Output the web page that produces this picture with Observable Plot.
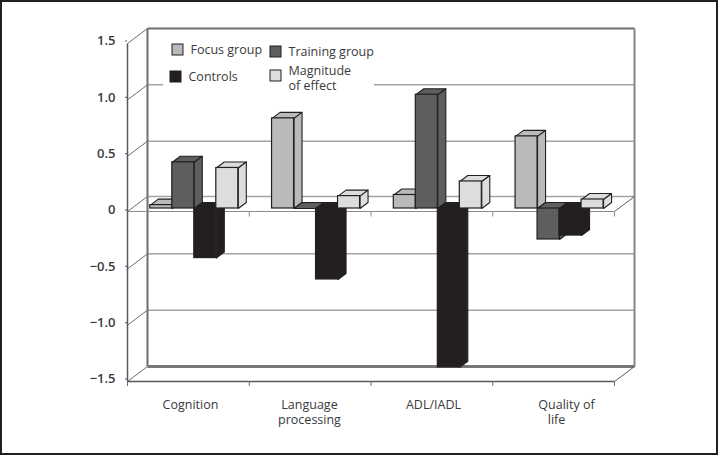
<!DOCTYPE html>
<html><head><meta charset="utf-8">
<script src="https://cdn.jsdelivr.net/npm/d3@7"></script>
<script src="https://cdn.jsdelivr.net/npm/@observablehq/plot@0.6"></script>
<style>
html,body{margin:0;padding:0;background:#fff}
#wrap{position:relative;width:718px;height:455px;overflow:hidden}
#wrap svg{position:absolute;left:0;top:0}
#wrap:after{content:"";position:absolute;left:0;top:0;width:718px;height:455px;box-sizing:border-box;border:2px solid #231f20;pointer-events:none}
</style></head><body><div id="wrap"></div>
<script>
const categories = ["Cognition", "Language processing", "ADL/IADL", "Quality of life"];
const seriesNames = ["Focus group", "Training group", "Controls", "Magnitude of effect"];
const focus     = [0.03, 0.80, 0.12, 0.64];
const training  = [0.41, 0.00, 1.01, -0.275];
const controls  = [-0.44, -0.63, -1.41, -0.24];
const magnitude = [0.36, 0.11, 0.24, 0.08];
const seriesValues = [focus, training, controls, magnitude];
const seriesColors = ["#b9babc", "#5d5e60", "#231f20", "#dcddde"];
const yTicks = [-1.5, -1, -0.5, 0, 0.5, 1, 1.5];
const xTicks = [0, 1, 2, 3, 4];

// Scale geometry of the box (data units)
const W = 718, H = 455, mL = 127, mR = 104, mT = 43, mB = 74;
const pxX = (W - mL - mR) / 4, pxY = (H - mT - mB) / 3;
const X = px => (px - mL) / pxX;
const Y = py => 1.5 - (py - mT) / pxY;
const wallDX = 20 / pxX, wallDY = 15 / pxY;       // box depth
const barDX = 8 / pxX, barDY = 6 / pxY;           // bar depth
const baseY = 4 / pxY;                            // bar base above front zero line
const zeroY = 1 / pxY;                            // zero plane sits a pixel above the scale's centre
const groupStart = 22.8 / pxX, barW = 22 / pxX;

const bars = [];
categories.forEach((c, ci) => seriesValues.forEach((vals, si) => {
  const x1 = ci + groupStart + si * barW, x2 = x1 + barW, v = vals[ci];
  bars.push({id: `${ci}-${si}`, x1, x2, y1: baseY, y2: baseY + v, color: seriesColors[si], top: Math.max(baseY, baseY + v), bottom: Math.min(baseY, baseY + v)});
}));
const faces = [];
for (const b of bars) {
  [[b.x1, b.top], [b.x2, b.top], [b.x2 + barDX, b.top + barDY], [b.x1 + barDX, b.top + barDY]]
    .forEach(([x, y]) => faces.push({z: b.id + "t", x, y, color: b.color}));
  [[b.x2, b.top], [b.x2 + barDX, b.top + barDY], [b.x2 + barDX, b.bottom + barDY], [b.x2, b.bottom]]
    .forEach(([x, y]) => faces.push({z: b.id + "s", x, y, color: b.color}));
}

const font = "'Open Sans', sans-serif";
const ink = "#3a3a3c";
const shift = v => v === 0 ? zeroY : v;

const chart = Plot.plot({
  width: W, height: H,
  marginLeft: mL, marginRight: mR, marginTop: mT, marginBottom: mB,
  style: {background: "#fff", fontFamily: font, fontSize: "12.5px", color: ink, overflow: "visible"},
  x: {type: "linear", domain: [0, 4]},
  y: {type: "linear", domain: [-1.5, 1.5]},
  marks: [
    // back wall gridlines
    Plot.link(yTicks.filter(v => v > -1.5 && v < 1.5), {x1: wallDX, x2: 4 + wallDX, y1: v => shift(v) + wallDY, y2: v => shift(v) + wallDY, stroke: "#a3a4a6", strokeWidth: 1.5}),
    // left wall diagonals
    Plot.link(yTicks, {x1: 0, x2: wallDX, y1: shift, y2: v => shift(v) + wallDY, stroke: "#6d6e70", strokeWidth: 1}),
    // box: top edge, back verticals, floor
    Plot.link([1.5], {x1: wallDX, x2: 4 + wallDX, y1: v => v + wallDY, y2: v => v + wallDY, stroke: "#6d6e70", strokeWidth: 2}),
    Plot.link([wallDX], {x1: d => d, x2: d => d, y1: -1.5 + wallDY, y2: 1.5 + wallDY, stroke: "#6d6e70", strokeWidth: 2}),
    Plot.link([4 + wallDX], {x1: d => d, x2: d => d, y1: -1.5 + wallDY, y2: 1.5 + wallDY, stroke: "#858688", strokeWidth: 2}),
    Plot.link([-1.5], {x1: wallDX, x2: 4 + wallDX, y1: v => v + wallDY, y2: v => v + wallDY, stroke: "#77787a", strokeWidth: 3}),
    // floor front and front left edge
    Plot.link([-1.5], {x1: 0, x2: 4, y1: v => v, y2: v => v, stroke: "#58595b", strokeWidth: 1.5}),
    Plot.link([0], {x1: d => d, x2: d => d, y1: -1.5, y2: 1.5, stroke: "#58595b", strokeWidth: 1.5}),
    Plot.link([-1.5, 0], {x1: 4, x2: 4 + wallDX, y1: shift, y2: v => shift(v) + wallDY, stroke: "#58595b", strokeWidth: 1}),
    // zero plane front edge and its ticks
    Plot.link([0], {x1: 0, x2: 4, y1: zeroY, y2: zeroY, stroke: "#8a8b8d", strokeWidth: 1}),
    Plot.link(xTicks.slice(1), {x1: d => d, x2: d => d, y1: zeroY, y2: zeroY - 5 / pxY, stroke: "#8a8b8d", strokeWidth: 1}),

    // legend backing
    Plot.rect([0], {x1: X(163), x2: X(374), y1: Y(36), y2: Y(96), fill: "#fff"}),

    // bars
    Plot.line(faces, {x: "x", y: "y", z: "z", fill: "color", stroke: "#231f20", strokeWidth: 1.1, curve: "linear-closed"}),
    Plot.rect(bars, {x1: "x1", x2: "x2", y1: "y1", y2: "y2", fill: "color", stroke: "#231f20", strokeWidth: 1.2}),

    // axes
    Plot.axisY({ticks: yTicks, tickSize: 2, tickPadding: 10, dy: -2.5, stroke: "#58595b", tickFormat: d => d === 0 ? "0" : d3.format(".1f")(d), fontSize: 13, fontWeight: 600, fill: ink, label: null}),
    Plot.axisX({ticks: xTicks, tickSize: 5, tickFormat: () => "", stroke: "#6d6e70", label: null}),
    Plot.text(["Cognition", "Language\nprocessing", "ADL/IADL", "Quality of"], {x: (d, i) => [X(190), X(309), X(433), X(566)][i], y: (d, i) => Y(i === 1 ? 411 : 404), fill: ink, fontSize: 12.5, lineHeight: 1.2}),
    Plot.text(["life"], {x: X(556), y: Y(419), fill: ink, fontSize: 12.5}),

    // legend
    Plot.rect(seriesNames, {
      x1: (d, i) => X([172, 270, 170, 270][i]), x2: (d, i) => X([183, 281, 181, 281][i]),
      y1: (d, i) => Y([44, 46, 71, 70][i]), y2: (d, i) => Y([55, 57, 82, 81][i]),
      fill: (d, i) => seriesColors[i], stroke: "#231f20", strokeWidth: 1}),
    Plot.text(["Focus group", "Training group", "Controls", "Magnitude\nof effect"], {
      x: (d, i) => X([190, 288, 188, 288][i]), y: (d, i) => Y([48.5, 50.5, 75.5, 77.5][i]),
      textAnchor: "start", fill: ink, fontSize: 12.5, lineHeight: 1.2})
  ]
});
document.getElementById("wrap").append(chart);
</script></body></html>
